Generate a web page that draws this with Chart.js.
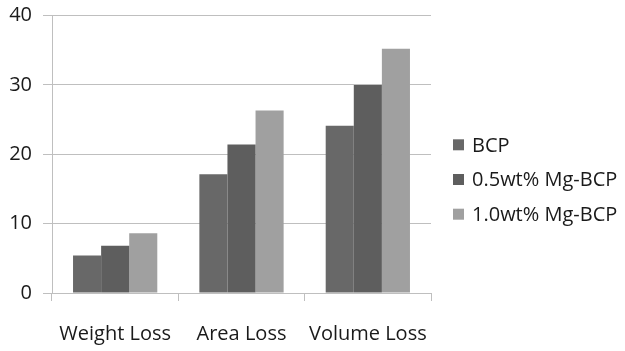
<!DOCTYPE html>
<html>
<head>
<meta charset="utf-8">
<script src="https://cdn.jsdelivr.net/npm/chart.js@4"></script>
<style>
html,body{margin:0;padding:0;background:#fff;}
#wrap{width:625px;height:351px;position:relative;}
</style>
</head>
<body>
<div id="wrap"><canvas id="c" width="625" height="351"></canvas></div>
<script>
const categories = ['Weight Loss', 'Area Loss', 'Volume Loss'];
const seriesNames = ['BCP', '0.5wt% Mg-BCP', '1.0wt% Mg-BCP'];
const bcp = [5.4, 17.1, 24.1];
const mg05 = [6.8, 21.4, 30.0];
const mg10 = [8.6, 26.3, 35.2];
const yTicks = [0, 10, 20, 30, 40];
const colors = ['#686868', '#5e5e5e', '#a0a0a0'];

const FONT = "'Open Sans', 'Noto Sans', sans-serif";
const gridColor = '#bfbfbf';
const textColor = '#1a1a1a';

// Legend drawn on the canvas from the datasets, to the right of the plot
const sideLegend = {
  id: 'sideLegend',
  afterDraw(chart) {
    const ctx = chart.ctx;
    const area = chart.chartArea;
    const ds = chart.data.datasets;
    const rowH = 34.7;
    const box = 11;
    const x0 = area.right + 22;
    const cy = chart.height / 2 + 5;
    const y0 = cy - rowH * (ds.length - 1) / 2;
    ctx.save();
    ctx.font = '20px ' + FONT;
    ctx.textBaseline = 'middle';
    ctx.textAlign = 'left';
    ds.forEach((d, i) => {
      const y = y0 + i * rowH;
      ctx.fillStyle = d.backgroundColor;
      ctx.fillRect(x0, y - box / 2 - 1, box, box);
      ctx.fillStyle = textColor;
      ctx.fillText(d.label, x0 + box + 8, y);
    });
    ctx.restore();
  }
};

new Chart(document.getElementById('c'), {
  type: 'bar',
  data: {
    labels: categories,
    datasets: [bcp, mg05, mg10].map((d, i) => ({
      label: seriesNames[i],
      data: d,
      backgroundColor: colors[i],
      borderWidth: 0,
      categoryPercentage: 0.667,
      barPercentage: 1.0
    }))
  },
  plugins: [sideLegend],
  options: {
    responsive: false,
    animation: false,
    devicePixelRatio: 1,
    layout: { padding: { top: 0, right: 194, bottom: 0, left: 0 } },
    plugins: {
      tooltip: { enabled: false },
      legend: { display: false }
    },
    scales: {
      x: {
        afterFit: s => { s.height = 58; s.paddingLeft = 0; s.paddingRight = 0; },
        grid: {
          offset: true,
          drawOnChartArea: false,
          drawTicks: true,
          tickLength: 8,
          color: gridColor
        },
        border: { color: gridColor, width: 1 },
        ticks: {
          color: textColor,
          padding: 21,
          font: { family: FONT, size: 20 },
          maxRotation: 0
        }
      },
      y: {
        min: 0,
        max: 40,
        afterBuildTicks: s => { s.ticks = yTicks.map(v => ({ value: v })); },
        afterFit: s => { s.width = 52; s.paddingTop = 15.5; s.paddingBottom = 0; },
        grid: {
          color: gridColor,
          tickLength: 9,
          drawTicks: true
        },
        border: { color: gridColor, width: 1 },
        ticks: {
          color: textColor,
          padding: 11,
          font: { family: FONT, size: 20 }
        }
      }
    }
  }
});
</script>
</body>
</html>
